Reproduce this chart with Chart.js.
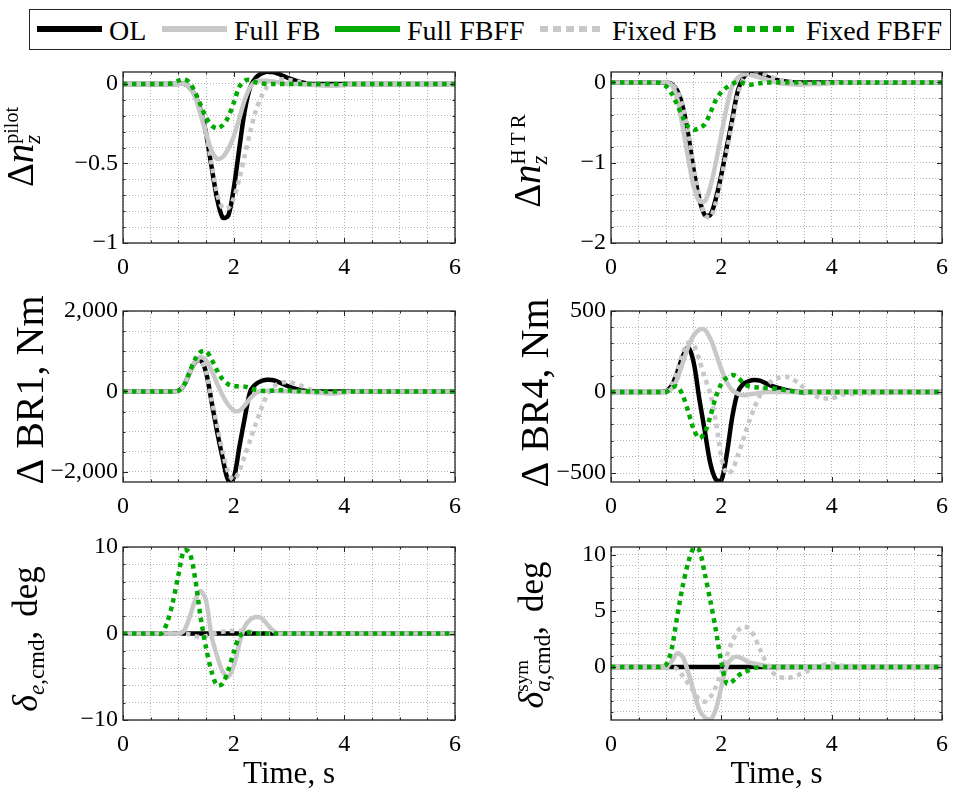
<!DOCTYPE html>
<html>
<head>
<meta charset="utf-8">
<script src="https://cdn.jsdelivr.net/npm/chart.js@4.4.1/dist/chart.umd.min.js"></script>
<style>
  html, body { margin: 0; padding: 0; background: #fff; }
  body { width: 957px; height: 790px; position: relative; overflow: hidden; font-family: "Liberation Serif", serif; }
  canvas { position: absolute; }
  #legend { position: absolute; left: 29px; top: 9px; width: 922px; height: 41px; border: 1px solid #262626; box-sizing: border-box; background: #fff; }
  .item { position: absolute; top: 2px; bottom: 0; display: flex; align-items: center; font-size: 28px; color: #000; white-space: nowrap; font-family: "Liberation Serif", serif; }
  .swatch { width: 65px; height: 6px; margin-right: 7px; margin-top: -3px; }
</style>
</head>
<body>
<div id="legend"></div>
<canvas id="nzPilot"></canvas>
<canvas id="nzHtr"></canvas>
<canvas id="br1"></canvas>
<canvas id="br4"></canvas>
<canvas id="elev"></canvas>
<canvas id="ail"></canvas>
<script>
(function() {
    // sample times, s
    const time = [0, 0.6, 0.7, 0.8, 0.9, 1.0, 1.1, 1.2, 1.3, 1.4, 1.5, 1.6, 1.7, 1.8, 1.9, 2.0,
        2.1, 2.2, 2.3, 2.4, 2.5, 2.6, 2.7, 2.8, 2.9, 3.0, 3.2, 3.4, 3.6, 3.8, 4.0, 4.2, 6];

    // pilot load factor
    const nzPilotOL = [0,0,0,0,0, 0,0,-0.02,-0.07,-0.16,-0.31,-0.52,-0.72,-0.84,-0.83,-0.66,-0.41,-0.17,-0.02,0.04,0.065,0.078,0.075,0.065,0.05,0.035, 0.012,0,0,0,0,0,0];
    const nzPilotFullFB = [0,0,0,0,0, 0,0,-0.02,-0.08,-0.19,-0.31,-0.42,-0.47,-0.46,-0.41,-0.33,-0.22,-0.1,-0.02,0.015,0.02,0.02,0.015,0.01,0.005,0, 0,-0.005,-0.01,-0.012,-0.006,0,0];
    const nzPilotFixedFB = [0,0,0,0,0, 0,0,-0.02,-0.07,-0.16,-0.31,-0.5,-0.69,-0.78,-0.78,-0.72,-0.6,-0.45,-0.3,-0.17,-0.08,-0.02,0.01,0.025,0.03,0.025, 0.01,0,-0.008,-0.01,-0.005,0,0];
    const nzPilotFixedFBFF = [0,0,0,0,0.005, 0.02,0.03,0.01,-0.05,-0.13,-0.21,-0.26,-0.28,-0.26,-0.21,-0.12,-0.02,0.02,0.025,0.01,0.003,0,0,0,0,0, 0,0,0,0,0,0,0];

    // HTR load factor
    const nzHtrOL = [0,0,0,0,0, 0,-0.02,-0.1,-0.3,-0.65,-1.1,-1.45,-1.65,-1.65,-1.45,-1.15,-0.8,-0.45,-0.1,0.06,0.12,0.14,0.12,0.08,0.05,0.03, 0.01,0,0,0,0,0,0];
    const nzHtrFullFB = [0,0,0,0,0, 0,-0.03,-0.2,-0.55,-0.95,-1.3,-1.48,-1.48,-1.3,-1.0,-0.65,-0.3,-0.04,0.06,0.1,0.1,0.08,0.06,0.04,0.02,0, -0.02,-0.03,-0.02,-0.02,-0.01,0,0];
    const nzHtrFixedFB = [0,0,0,0,0, 0,-0.02,-0.1,-0.3,-0.62,-1.05,-1.42,-1.65,-1.68,-1.5,-1.2,-0.85,-0.5,-0.15,0.04,0.12,0.14,0.13,0.1,0.07,0.04, 0.01,-0.01,-0.02,-0.01,0,0,0];
    const nzHtrFixedFBFF = [0,0,0,0,-0.01, -0.05,-0.14,-0.28,-0.43,-0.55,-0.59,-0.57,-0.52,-0.38,-0.22,-0.12,-0.06,-0.02,0.01,-0.01,-0.03,-0.02,-0.01,0,0,0, 0,0,0,0,0,0,0];

    // bending moment BR1, Nm
    const br1OL = [0,0,0,0,0, 10,150,450,720,780,480,-250,-990,-1650,-2200,-2150,-1400,-660,0,180,260,290,285,240,180,120, 40,0,0,0,0,0,0];
    const br1FullFB = [0,0,0,0,0, 0,150,450,740,850,780,520,200,-100,-330,-470,-480,-350,-170,-40,10,20,15,10,5,0, -10,-20,-40,-50,-20,0,0];
    const br1FixedFB = [0,0,0,0,0, 0,150,450,720,790,500,-200,-850,-1500,-2000,-2200,-1980,-1600,-1200,-800,-420,-100,90,190,230,230, 150,40,-30,-50,-20,0,0];
    const br1FixedFBFF = [0,0,0,0,0, 20,150,470,790,980,1000,800,520,300,180,130,130,120,80,40,15,10,20,30,30,25, 10,0,0,0,0,0,0];

    // bending moment BR4, Nm
    const br4OL = [0,0,0,0,0, 5,40,120,220,275,180,-40,-240,-440,-540,-545,-380,-150,0,50,68,74,70,55,40,28, 10,0,0,0,0,0,0];
    const br4FullFB = [0,0,0,0,0, 0,20,80,180,280,350,385,385,330,240,140,60,10,-10,-20,-15,-10,-5,0,0,0, 0,0,0,0,0,0,0];
    const br4FixedFB = [0,0,0,0,0, 5,40,130,240,305,290,200,90,-10,-180,-400,-505,-480,-390,-290,-185,-95,-20,30,65,85, 93,55,-5,-35,-40,-15,0];
    const br4FixedFBFF = [0,0,0,0,0, 0,25,35,-20,-120,-230,-285,-250,-150,-30,50,90,105,90,55,35,30,28,25,22,20, 10,0,0,0,0,0,0];

    // elevator command, deg
    const elevOL = [0,0,0,0,0, 0,0,0,0,0,0,0,0,0,0,0,0,0,0,0,0,0,0,0,0,0, 0,0,0,0,0,0,0];
    const elevFullFB = [0,0,0,0,0, 0,0.3,1.8,3.8,4.9,3.8,-0.3,-2.6,-4.4,-5.0,-3.8,-1.2,0.8,1.6,1.9,1.8,1.1,0.4,0,0,0, 0,0,0,0,0,0,0];
    const elevFixedFB = [0,0,0,0,0, 0,0,-0.1,-0.3,-0.4,-0.3,-0.1,0.1,0.2,0.3,0.3,0.3,0.3,0.2,0.1,0,0,0,0,0,0, 0,0,0,0,0,0,0];
    const elevFixedFBFF = [0,0,0,1.3,3.6, 6.7,9.6,9.4,6.5,2.0,-1.6,-4.4,-6.0,-5.8,-4.3,-2.2,-0.4,0.1,0.1,0,0,0,0,0,0,0, 0,0,0,0,0,0,0];

    // symmetric aileron command, deg
    const ailOL = [0,0,0,0,0, 0,0,0,0,0,0,0,0,0,0,0,0,0,0,0,0,0,0,0,0,0, 0,0,0,0,0,0,0];
    const ailFullFB = [0,0,0,0,0, 0,0.5,1.2,0.9,-0.5,-2.2,-3.8,-4.5,-4.7,-3.8,-1.8,0.1,0.8,0.9,0.7,0.4,0.3,0.2,0.1,0.05,0, 0,0,0,0,0,0,0];
    const ailFixedFB = [0,0,0,0,0, 0,0,-0.2,-0.8,-1.5,-2.2,-2.9,-3.1,-2.7,-1.8,-0.5,1.0,2.3,3.2,3.6,3.4,2.7,1.6,0.5,-0.3,-0.8, -1.0,-0.7,-0.3,0.1,0.25,0.1,0];
    const ailFixedFBFF = [0,0,0,0,0, 0.2,1.6,4.5,7.2,9.3,10.6,10.4,8.3,5.9,3.3,0.4,-1.5,-1.3,-0.8,-0.5,-0.3,-0.1,0,0,0,0, 0,0,0,0,0,0,0];

    // labelled ticks
    const xTicks = [0, 2, 4, 6];
    const nzPilotTicks = [-1, -0.5, 0];
    const nzHtrTicks = [-2, -1, 0];
    const br1Ticks = [-2000, 0, 2000];
    const br4Ticks = [-500, 0, 500];
    const elevTicks = [-10, 0, 10];
    const ailTicks = [0, 5, 10];

    const legendNames = ['OL', 'Full FB', 'Full FBFF', 'Fixed FB', 'Fixed FBFF'];

    const BLACK = '#000000', GRAY = '#c8c8c8', GREEN = '#00aa00';
    const FONT = '"Liberation Serif", "Times New Roman", serif';
    Chart.defaults.font.family = FONT;

    // legend strip
    const legendStyle = [
        { color: BLACK, dotted: false, left: 7 },
        { color: GRAY, dotted: false, left: 132 },
        { color: GREEN, dotted: false, left: 305 },
        { color: GRAY, dotted: true, left: 510 },
        { color: GREEN, dotted: true, left: 704 }
    ];
    const legend = document.getElementById('legend');
    legendNames.forEach((name, i) => {
        const st = legendStyle[i];
        const item = document.createElement('div');
        item.className = 'item';
        item.style.left = st.left + 'px';
        const sw = document.createElement('span');
        sw.className = 'swatch';
        sw.style.background = st.dotted
            ? `repeating-linear-gradient(90deg, ${st.color} 0 8px, transparent 8px 13px)`
            : st.color;
        const txt = document.createElement('span');
        txt.textContent = name;
        item.appendChild(sw);
        item.appendChild(txt);
        legend.appendChild(item);
    });

    const fmt = v => (v < 0 ? '\u2212' : '') + Math.abs(v).toLocaleString('en-US');
    const isMajor = (v, majors, step) => majors.some(m => Math.abs(m - v) < step * 1e-3);

    function ticksEvery(min, max, step) {
        const out = [];
        const k0 = Math.ceil(min / step - 1e-9), k1 = Math.floor(max / step + 1e-9);
        for (let k = k0; k <= k1; k++) out.push(Math.round(k * step * 1e6) / 1e6);
        return out;
    }

    function makeDatasets(ol, fullFb, fixedFb, fixedFbff) {
        const pts = vals => time.map((t, i) => ({ x: t, y: vals[i] }));
        return [
            { label: legendNames[4], data: pts(fixedFbff), borderColor: GREEN, borderDash: [4.5, 4.5], order: 1 },
            { label: legendNames[3], data: pts(fixedFb), borderColor: GRAY, borderDash: [4.5, 4.5], order: 2 },
            { label: legendNames[1], data: pts(fullFb), borderColor: GRAY, order: 3 },
            { label: legendNames[0], data: pts(ol), borderColor: BLACK, order: 4 }
        ].map(d => Object.assign({
            borderWidth: 4.5, pointRadius: 0, tension: 0.3, clip: 0,
            borderCapStyle: 'butt', fill: false
        }, d));
    }

    // rotated axis label made of runs with sub/superscripts
    function runFont(r) { return `${r.i ? 'italic ' : ''}${r.s}px ${FONT}`; }
    function runsWidth(ctx, runs) {
        return runs.reduce((w, r) => { ctx.font = runFont(r); return w + ctx.measureText(r.t).width; }, 0);
    }
    function partWidth(ctx, p) {
        if (p.gap) return p.gap;
        if (p.stack) return Math.max(...p.stack.map(rs => runsWidth(ctx, rs)));
        return runsWidth(ctx, [p]);
    }
    function drawRuns(ctx, runs, x) {
        runs.forEach(r => {
            ctx.font = runFont(r);
            ctx.fillText(r.t, x, r.dy || 0);
            x += ctx.measureText(r.t).width;
        });
    }

    function decorPlugin(p) {
        return {
            id: 'decor',
            afterDatasetsDraw(chart) {
                const { ctx, chartArea: a, scales: { x, y } } = chart;
                ctx.save();
                ctx.strokeStyle = '#262626';
                ctx.lineWidth = 1.3;
                ctx.strokeRect(a.left, a.top, a.right - a.left, a.bottom - a.top);
                ctx.lineWidth = 1;
                ctx.beginPath();
                x.ticks.forEach(tk => {
                    const px = Math.round(x.getPixelForValue(tk.value)) + 0.5;
                    const len = isMajor(tk.value, xTicks, 0.5) ? 5 : 2.5;
                    ctx.moveTo(px, a.bottom); ctx.lineTo(px, a.bottom - len);
                    ctx.moveTo(px, a.top); ctx.lineTo(px, a.top + len);
                });
                y.ticks.forEach(tk => {
                    const py = Math.round(y.getPixelForValue(tk.value)) + 0.5;
                    const len = isMajor(tk.value, p.major, p.minor) ? 5 : 2.5;
                    ctx.moveTo(a.left, py); ctx.lineTo(a.left + len, py);
                    ctx.moveTo(a.right, py); ctx.lineTo(a.right - len, py);
                });
                ctx.stroke();
                ctx.restore();
            },
            afterDraw(chart) {
                const { ctx, chartArea: a } = chart;
                ctx.save();
                ctx.fillStyle = '#000';
                ctx.textBaseline = 'alphabetic';
                ctx.textAlign = 'left';
                const lab = p.label;
                const total = lab.parts.reduce((w, part) => w + partWidth(ctx, part), 0);
                ctx.translate(a.left - lab.dx, a.top + lab.cy);
                ctx.rotate(-Math.PI / 2);
                let cx = -total / 2;
                lab.parts.forEach(part => {
                    if (part.stack) part.stack.forEach(rs => drawRuns(ctx, rs, cx));
                    else if (!part.gap) drawRuns(ctx, [part], cx);
                    cx += partWidth(ctx, part);
                });
                ctx.restore();
                if (p.xTitle) {
                    ctx.save();
                    ctx.fillStyle = '#000';
                    ctx.font = `31px ${FONT}`;
                    ctx.textAlign = 'center';
                    ctx.textBaseline = 'alphabetic';
                    ctx.fillText(p.xTitle, (a.left + a.right) / 2, a.bottom + 63);
                    ctx.restore();
                }
            }
        };
    }

    const panels = [
        { id: 'nzPilot', area: [123, 72, 463, 243], range: [-1, 0.075], major: nzPilotTicks, minor: 0.1,
          series: [nzPilotOL, nzPilotFullFB, nzPilotFixedFB, nzPilotFixedFBFF],
          label: { dx: 90, cy: 75, parts: [
              { t: '\u0394', s: 37 }, { t: 'n', s: 39, i: true },
              { stack: [[{ t: 'pilot', s: 20, dy: -15 }], [{ t: 'z', s: 23, i: true, dy: 7 }]] }] } },
        { id: 'nzHtr', area: [611, 72, 950, 243], range: [-2, 0.13], major: nzHtrTicks, minor: 0.2,
          series: [nzHtrOL, nzHtrFullFB, nzHtrFixedFB, nzHtrFixedFBFF],
          label: { dx: 71, cy: 89, parts: [
              { t: '\u0394', s: 37 }, { t: 'n', s: 39, i: true },
              { stack: [[{ t: 'H\u2009T\u2009R', s: 21, dy: -15 }], [{ t: 'z', s: 23, i: true, dy: 7 }]] }] } },
        { id: 'br1', area: [123, 311, 463, 482], range: [-2250, 2000], major: br1Ticks, minor: 500,
          series: [br1OL, br1FullFB, br1FixedFB, br1FixedFBFF],
          label: { dx: 80, cy: 79, parts: [{ t: '\u0394 BR1, Nm', s: 40 }] } },
        { id: 'br4', area: [611, 311, 950, 482], range: [-555, 500], major: br4Ticks, minor: 100,
          series: [br4OL, br4FullFB, br4FixedFB, br4FixedFBFF],
          label: { dx: 63, cy: 82, parts: [{ t: '\u0394 BR4, Nm', s: 40 }] } },
        { id: 'elev', area: [123, 547, 463, 720], range: [-10, 10], major: elevTicks, minor: 2,
          series: [elevOL, elevFullFB, elevFixedFB, elevFixedFBFF], xTitle: 'Time, s',
          label: { dx: 86, cy: 92, parts: [
              { t: '\u03b4', s: 36, i: true }, { t: 'e', s: 23, i: true, dy: 7 }, { t: ',cmd', s: 23, dy: 7 },
              { t: ',', s: 35 }, { gap: 14 }, { t: 'deg', s: 35 }] } },
        { id: 'ail', area: [611, 547, 950, 720], range: [-4.73, 10.68], major: ailTicks, minor: 1,
          series: [ailOL, ailFullFB, ailFixedFB, ailFixedFBFF], xTitle: 'Time, s',
          label: { dx: 68, cy: 88, parts: [
              { t: '\u03b4', s: 36, i: true },
              { stack: [[{ t: 'sym', s: 19, dy: -15 }], [{ t: 'a', s: 23, i: true, dy: 7 }, { t: ',cmd', s: 23, dy: 7 }]] },
              { t: ',', s: 35 }, { gap: 14 }, { t: 'deg', s: 35 }] } }
    ];

    const PAD_L = 123, PAD_T = 30, PAD_R = 8, PAD_B = 70, Y_W = 112, X_H = 40;

    panels.forEach(p => {
        const [l, t, r, b] = p.area;
        const w = r - l + PAD_L + PAD_R, h = b - t + PAD_T + PAD_B;
        const cv = document.getElementById(p.id);
        cv.style.left = (l - PAD_L) + 'px';
        cv.style.top = (t - PAD_T) + 'px';
        cv.style.width = w + 'px';
        cv.style.height = h + 'px';
        cv.width = w;
        cv.height = h;

        const gridOpts = { color: '#b4b4b4', lineWidth: 1, drawTicks: false };
        const borderOpts = { display: false, dash: [1, 2] };
        const tickFont = { family: FONT, size: 24 };

        new Chart(cv.getContext('2d'), {
            type: 'line',
            data: { datasets: makeDatasets(...p.series) },
            options: {
                responsive: false,
                animation: false,
                devicePixelRatio: 1,
                layout: { padding: { left: PAD_L - Y_W, top: PAD_T, right: PAD_R, bottom: PAD_B - X_H } },
                plugins: { legend: { display: false }, tooltip: { enabled: false } },
                scales: {
                    x: {
                        type: 'linear', min: 0, max: 6, bounds: 'data',
                        afterBuildTicks: s => { s.ticks = ticksEvery(0, 6, 0.5).map(v => ({ value: v })); },
                        afterFit: s => { s.height = X_H; },
                        grid: gridOpts, border: borderOpts,
                        ticks: { autoSkip: false, maxRotation: 0, padding: 10, color: '#000', font: tickFont,
                                 callback: v => isMajor(v, xTicks, 0.5) ? fmt(v) : '' }
                    },
                    y: {
                        type: 'linear', min: p.range[0], max: p.range[1], bounds: 'data',
                        afterBuildTicks: s => { s.ticks = ticksEvery(p.range[0], p.range[1], p.minor).map(v => ({ value: v })); },
                        afterFit: s => { s.width = Y_W; },
                        grid: gridOpts, border: borderOpts,
                        ticks: { autoSkip: false, padding: 5, color: '#000', font: tickFont,
                                 callback: v => isMajor(v, p.major, p.minor) ? fmt(v) : '' }
                    }
                }
            },
            plugins: [decorPlugin(p)]
        });
    });
})();
</script>
</body>
</html>
